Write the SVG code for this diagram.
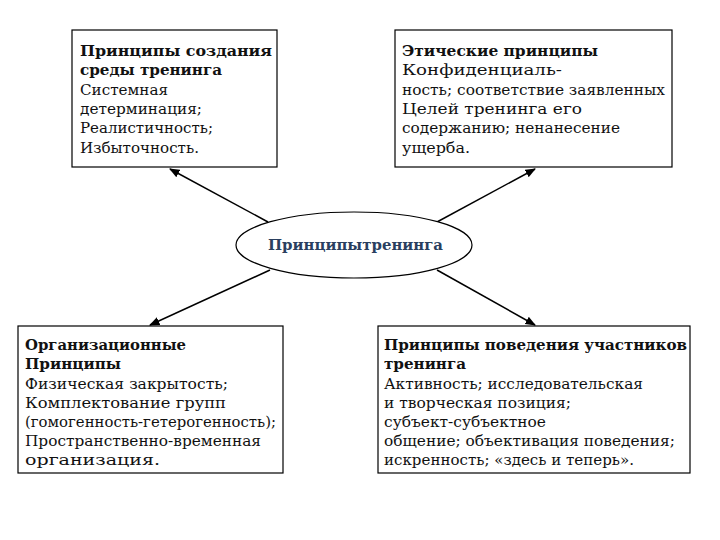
<svg xmlns="http://www.w3.org/2000/svg" width="720" height="540" viewBox="0 0 720 540">
<style>
text{font-family:"DejaVu Serif","Liberation Serif",serif;font-size:14px;fill:#111}
.b{font-weight:bold}
.box{fill:#fff;stroke:#000;stroke-width:1.2}
.c{stroke:#000;stroke-width:1.5;fill:none;marker-end:url(#a)}
</style>
<defs><marker id="a" viewBox="0 0 10 10" refX="9" refY="5" markerWidth="7" markerHeight="7" orient="auto"><path d="M0,1 L10,5 L0,9 z" fill="#000"/></marker></defs>
<rect width="720" height="540" fill="#fff"/>
<g id="connectors">
<line class="c" x1="268" y1="222" x2="170" y2="169"/>
<line class="c" x1="437" y1="222" x2="535" y2="169"/>
<line class="c" x1="270" y1="270" x2="150" y2="325"/>
<line class="c" x1="437" y1="270" x2="535" y2="325"/>
</g>
<g id="tl">
<rect class="box" x="72" y="30" width="205" height="137"/>
<text class="b" x="80" y="56" textLength="192" lengthAdjust="spacingAndGlyphs">Принципы создания</text>
<text class="b" x="80" y="75" textLength="142" lengthAdjust="spacingAndGlyphs">среды тренинга</text>
<text x="80" y="95" textLength="88" lengthAdjust="spacingAndGlyphs">Системная</text>
<text x="80" y="114" textLength="122" lengthAdjust="spacingAndGlyphs">детерминация;</text>
<text x="80" y="133" textLength="133" lengthAdjust="spacingAndGlyphs">Реалистичность;</text>
<text x="80" y="153" textLength="119" lengthAdjust="spacingAndGlyphs">Избыточность.</text>
</g>
<g id="tr">
<rect class="box" x="395" y="30" width="277" height="137"/>
<text class="b" x="402" y="56" textLength="196" lengthAdjust="spacingAndGlyphs">Этические принципы</text>
<text x="402" y="75" textLength="160" lengthAdjust="spacingAndGlyphs">Конфиденциаль-</text>
<text x="402" y="95" textLength="263" lengthAdjust="spacingAndGlyphs">ность; соответствие заявленных</text>
<text x="402" y="114" textLength="180" lengthAdjust="spacingAndGlyphs">Целей тренинга его</text>
<text x="402" y="133" textLength="218" lengthAdjust="spacingAndGlyphs">содержанию; ненанесение</text>
<text x="402" y="153" textLength="68" lengthAdjust="spacingAndGlyphs">ущерба.</text>
</g>
<g id="center">
<ellipse cx="354" cy="245" rx="118" ry="33" fill="#fff" stroke="#000" stroke-width="1.2"/>
<text class="b" x="268" y="250" textLength="175" lengthAdjust="spacingAndGlyphs" style="fill:#2a3f5f">Принципытренинга</text>
</g>
<g id="bl">
<rect class="box" x="18" y="326" width="265" height="147"/>
<text class="b" x="25" y="350" textLength="161" lengthAdjust="spacingAndGlyphs">Организационные</text>
<text class="b" x="25" y="369" textLength="96" lengthAdjust="spacingAndGlyphs">Принципы</text>
<text x="25" y="389" textLength="203" lengthAdjust="spacingAndGlyphs">Физическая закрытость;</text>
<text x="25" y="408" textLength="201" lengthAdjust="spacingAndGlyphs">Комплектование групп</text>
<text x="25" y="427" textLength="251" lengthAdjust="spacingAndGlyphs">(гомогенность-гетерогенность);</text>
<text x="25" y="446" textLength="236" lengthAdjust="spacingAndGlyphs">Пространственно-временная</text>
<text x="25" y="465" textLength="135" lengthAdjust="spacingAndGlyphs">организация.</text>
</g>
<g id="br">
<rect class="box" x="378" y="326" width="312" height="147"/>
<text class="b" x="384" y="350" textLength="303" lengthAdjust="spacingAndGlyphs">Принципы поведения участников</text>
<text class="b" x="384" y="369" textLength="82" lengthAdjust="spacingAndGlyphs">тренинга</text>
<text x="384" y="389" textLength="259" lengthAdjust="spacingAndGlyphs">Активность; исследовательская</text>
<text x="384" y="408" textLength="187" lengthAdjust="spacingAndGlyphs">и творческая позиция;</text>
<text x="384" y="427" textLength="162" lengthAdjust="spacingAndGlyphs">субъект-субъектное</text>
<text x="384" y="446" textLength="291" lengthAdjust="spacingAndGlyphs">общение; объективация поведения;</text>
<text x="384" y="465" textLength="250" lengthAdjust="spacingAndGlyphs">искренность; «здесь и теперь».</text>
</g>
</svg>
